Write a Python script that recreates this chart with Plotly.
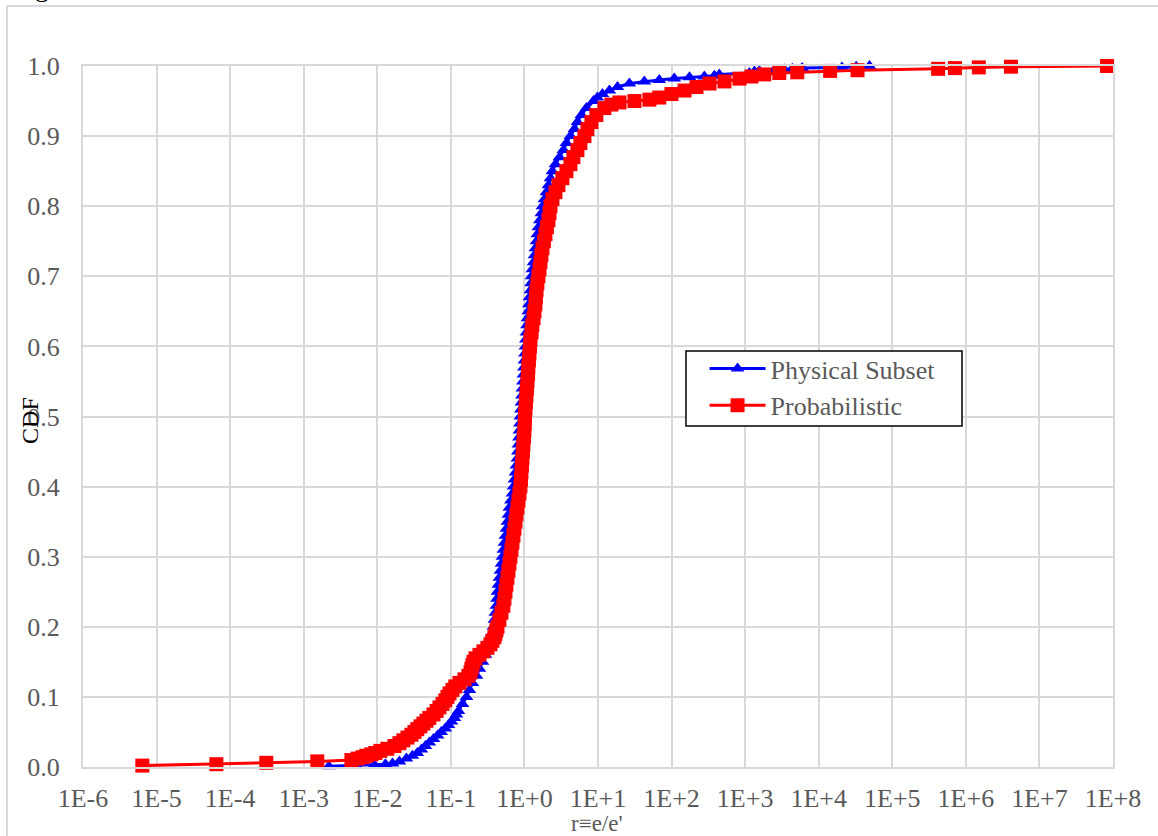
import plotly.graph_objects as go

# Empirical CDF of r = e/e' for the two methods
phys_r = [
    2.2e-3, 5.2e-3, 9.1e-3, 1.29e-2, 1.61e-2, 2.0e-2, 2.49e-2, 3.0e-2, 3.5e-2, 3.98e-2,
    4.51e-2, 5.1e-2, 5.8e-2, 6.6e-2, 7.4e-2, 8.4e-2, 9.3e-2, 0.102, 0.112, 0.119,
    0.127, 0.144, 0.163, 0.179, 0.196, 0.223, 0.245, 0.269, 0.295, 0.314,
    0.335, 0.356, 0.379, 0.391, 0.403, 0.416, 0.423, 0.430, 0.443, 0.457,
    0.472, 0.487, 0.502, 0.518, 0.535, 0.552, 0.569, 0.587, 0.606, 0.625,
    0.655, 0.687, 0.709, 0.731, 0.755, 0.778, 0.803, 0.816, 0.829, 0.842,
    0.855, 0.869, 0.882, 0.896, 0.910, 0.925, 0.939, 0.954, 0.969, 0.984,
    1.00, 1.016, 1.032, 1.048, 1.065, 1.082, 1.10, 1.13, 1.15, 1.17,
    1.21, 1.23, 1.25, 1.28, 1.33, 1.37, 1.41, 1.46, 1.50, 1.55,
    1.62, 1.70, 1.76, 1.87, 1.99, 2.12, 2.26, 2.40, 2.64, 2.99,
    3.39, 3.72, 4.22, 4.78, 5.25, 5.95, 6.96, 8.67, 9.8, 11.5,
    14.3, 18.4, 26.7, 42.6, 68.0, 109.0, 175.0, 279.0, 382.0, 446.0,
    1140.0, 1340.0, 1560.0, 2490.0, 3400.0, 4370.0, 5960.0, 2.07e4, 3.23e4, 4.9e4,
]
phys_cdf = [
    0.001, 0.002, 0.003, 0.004, 0.005, 0.008, 0.012, 0.016, 0.020, 0.025,
    0.030, 0.035, 0.040, 0.045, 0.050, 0.055, 0.060, 0.065, 0.070, 0.075,
    0.080, 0.090, 0.100, 0.110, 0.120, 0.130, 0.140, 0.150, 0.160, 0.170,
    0.180, 0.190, 0.200, 0.210, 0.220, 0.230, 0.240, 0.250, 0.260, 0.270,
    0.280, 0.290, 0.300, 0.310, 0.320, 0.330, 0.340, 0.350, 0.360, 0.370,
    0.380, 0.390, 0.400, 0.410, 0.420, 0.430, 0.440, 0.450, 0.460, 0.470,
    0.480, 0.490, 0.500, 0.510, 0.520, 0.530, 0.540, 0.550, 0.560, 0.570,
    0.580, 0.590, 0.600, 0.610, 0.620, 0.630, 0.640, 0.650, 0.660, 0.670,
    0.680, 0.690, 0.700, 0.710, 0.720, 0.730, 0.740, 0.750, 0.760, 0.770,
    0.780, 0.790, 0.800, 0.810, 0.820, 0.830, 0.840, 0.850, 0.860, 0.870,
    0.880, 0.890, 0.900, 0.910, 0.920, 0.930, 0.940, 0.950, 0.955, 0.960,
    0.965, 0.970, 0.975, 0.978, 0.980, 0.982, 0.984, 0.985, 0.986, 0.988,
    0.990, 0.992, 0.993, 0.994, 0.995, 0.996, 0.997, 0.998, 0.999, 1.000,
]

prob_r = [
    6.4e-6, 6.5e-5, 3.1e-4, 1.53e-3, 4.45e-3, 5.4e-3, 6.3e-3, 7.1e-3, 8.3e-3, 9.4e-3,
    1.10e-2, 1.37e-2, 1.71e-2, 2.0e-2, 2.26e-2, 2.57e-2, 2.91e-2, 3.2e-2, 3.5e-2, 3.86e-2,
    4.24e-2, 4.66e-2, 5.1e-2, 5.8e-2, 6.4e-2, 7.0e-2, 7.7e-2, 8.4e-2, 9.0e-2, 9.6e-2,
    0.105, 0.115, 0.131, 0.153, 0.173, 0.185, 0.190, 0.196, 0.203, 0.216,
    0.245, 0.277, 0.314, 0.345, 0.367, 0.391, 0.403, 0.416, 0.430, 0.457,
    0.487, 0.518, 0.535, 0.552, 0.569, 0.587, 0.606, 0.625, 0.645, 0.666,
    0.687, 0.709, 0.731, 0.755, 0.778, 0.803, 0.829, 0.855, 0.882, 0.896,
    0.910, 0.925, 0.939, 0.954, 0.969, 0.984, 1.00, 1.01, 1.016, 1.032,
    1.048, 1.065, 1.082, 1.10, 1.12, 1.13, 1.15, 1.17, 1.19, 1.21,
    1.25, 1.28, 1.33, 1.37, 1.41, 1.43, 1.46, 1.50, 1.55, 1.60,
    1.65, 1.70, 1.76, 1.84, 1.93, 2.02, 2.12, 2.19, 2.26, 2.40,
    2.64, 2.90, 3.28, 3.72, 4.22, 4.63, 5.25, 5.76, 6.54, 7.18,
    8.14, 9.5, 12.2, 15.2, 19.6, 31.3, 50.0, 68.0, 99.6, 150.0,
    218.0, 328.0, 524.0, 836.0, 1220.0, 1820.0, 2910.0, 5120.0, 1.43e4, 3.37e4,
    4.2e5, 7.1e5, 1.5e6, 4.1e6, 8.3e7,
]
prob_cdf = [
    0.002, 0.004, 0.006, 0.008, 0.010, 0.012, 0.014, 0.016, 0.018, 0.020,
    0.023, 0.026, 0.030, 0.034, 0.038, 0.042, 0.046, 0.050, 0.054, 0.058,
    0.062, 0.066, 0.070, 0.075, 0.080, 0.085, 0.090, 0.095, 0.100, 0.105,
    0.110, 0.115, 0.120, 0.125, 0.130, 0.135, 0.140, 0.145, 0.150, 0.155,
    0.160, 0.165, 0.170, 0.175, 0.180, 0.185, 0.190, 0.195, 0.200, 0.210,
    0.220, 0.230, 0.240, 0.250, 0.260, 0.270, 0.280, 0.290, 0.300, 0.310,
    0.320, 0.330, 0.340, 0.350, 0.360, 0.370, 0.380, 0.390, 0.400, 0.410,
    0.420, 0.430, 0.440, 0.450, 0.460, 0.470, 0.480, 0.490, 0.500, 0.510,
    0.520, 0.530, 0.540, 0.550, 0.560, 0.570, 0.580, 0.590, 0.600, 0.610,
    0.620, 0.630, 0.640, 0.650, 0.660, 0.670, 0.680, 0.690, 0.700, 0.710,
    0.720, 0.730, 0.740, 0.750, 0.760, 0.770, 0.780, 0.790, 0.800, 0.810,
    0.820, 0.830, 0.840, 0.850, 0.860, 0.870, 0.880, 0.890, 0.900, 0.910,
    0.920, 0.930, 0.940, 0.945, 0.948, 0.950, 0.952, 0.955, 0.960, 0.965,
    0.970, 0.975, 0.978, 0.982, 0.985, 0.988, 0.990, 0.991, 0.993, 0.994,
    0.996, 0.997, 0.998, 0.999, 1.000,
]

x_tick_vals = [1e-6, 1e-5, 1e-4, 1e-3, 1e-2, 1e-1, 1e0, 1e1, 1e2, 1e3, 1e4, 1e5, 1e6, 1e7, 1e8]
x_tick_text = ["1E-6", "1E-5", "1E-4", "1E-3", "1E-2", "1E-1", "1E+0", "1E+1",
               "1E+2", "1E+3", "1E+4", "1E+5", "1E+6", "1E+7", "1E+8"]
y_tick_vals = [0.0, 0.1, 0.2, 0.3, 0.4, 0.5, 0.6, 0.7, 0.8, 0.9, 1.0]

SERIF = "Liberation Serif, Times New Roman, serif"
GRID = "#d9d9d9"
TEXT = "#595959"
CLEAR = "rgba(0,0,0,0)"

fig = go.Figure()
fig.add_trace(go.Scatter(
    x=phys_r, y=phys_cdf, name="Physical Subset", mode="lines+markers",
    line=dict(color="#0000ff", width=3),
    marker=dict(symbol="triangle-up", size=12, color="#0000ff"),
    cliponaxis=False,
))
fig.add_trace(go.Scatter(
    x=prob_r, y=prob_cdf, name="Probabilistic", mode="lines+markers",
    line=dict(color="#ff0000", width=3),
    marker=dict(symbol="square", size=14, color="#ff0000"),
    cliponaxis=False,
))

fig.update_layout(
    width=1158, height=836,
    margin=dict(l=83, r=45, t=66, b=69),
    paper_bgcolor="white", plot_bgcolor="white",
    font=dict(family=SERIF, color=TEXT, size=26),
    showlegend=True,
    legend=dict(
        x=0.585, y=0.602, xanchor="left", yanchor="top",
        bgcolor=CLEAR, borderwidth=0,
        font=dict(family=SERIF, size=26, color=TEXT),
        itemwidth=56, indentation=19,
    ),
    xaxis=dict(
        type="log", range=[-6, 8],
        tickvals=x_tick_vals, ticktext=x_tick_text,
        showgrid=True, gridcolor=GRID, gridwidth=2,
        showline=True, linecolor=GRID, linewidth=2, mirror=True,
        ticks="outside", ticklen=7, tickcolor=CLEAR,
        tickfont=dict(family=SERIF, size=26, color=TEXT),
    ),
    yaxis=dict(
        range=[0, 1],
        tickvals=y_tick_vals, tickformat=".1f",
        showgrid=True, gridcolor=GRID, gridwidth=2,
        showline=True, linecolor=GRID, linewidth=2, mirror=True,
        ticks="outside", ticklen=16, tickcolor=CLEAR,
        tickfont=dict(family=SERIF, size=26, color=TEXT),
    ),
    annotations=[
        dict(text="CDF", textangle=-90, x=-0.0515, y=0.495, xref="paper", yref="paper",
             xanchor="center", yanchor="middle",
             showarrow=False, font=dict(family=SERIF, size=24, color="black")),
        dict(text="r\u2261e/e'", x=0.499, y=-0.081, xref="paper", yref="paper",
             xanchor="center", yanchor="middle",
             showarrow=False, font=dict(family=SERIF, size=23, color=TEXT)),
        dict(text="g", x=-0.0487, y=1.0884, xref="paper", yref="paper",
             xanchor="left", yanchor="bottom",
             showarrow=False, font=dict(family=SERIF, size=28, color="black")),
    ],
    shapes=[
        # outer chart frame (left and top edges)
        dict(type="line", xref="paper", yref="paper", x0=-0.0738, x1=-0.0738, y0=-0.2, y1=1.0856,
             line=dict(color=GRID, width=2)),
        dict(type="line", xref="paper", yref="paper", x0=-0.0738, x1=1.1, y0=1.0856, y1=1.0856,
             line=dict(color=GRID, width=2)),
        # legend frame
        dict(type="rect", xref="paper", yref="paper", layer="above",
             x0=0.5854, x1=0.8534, y0=0.4864, y1=0.5934,
             fillcolor="white", line=dict(color="black", width=1.5)),
    ],
)

fig.write_html("out.html")
